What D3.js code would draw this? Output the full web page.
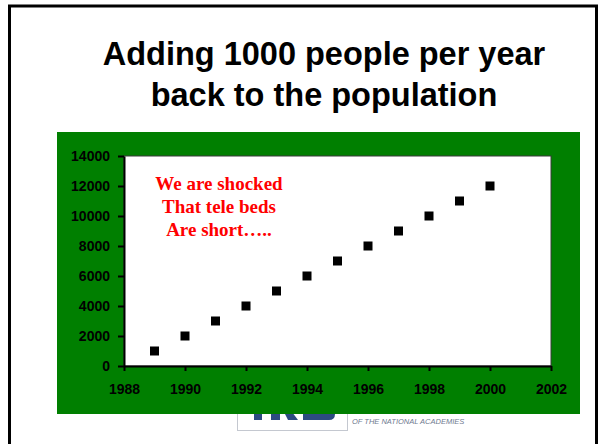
<!DOCTYPE html>
<html lang="en">
<head>
<meta charset="UTF-8">
<title>Adding 1000 people per year</title>
<script src="https://d3js.org/d3.v7.min.js"></script>
<style>
    body { margin: 0; background: #fff; }
    svg { display: block; }
</style>
</head>
<body>
<div id="chart"></div>
<script>
const years = [1989, 1990, 1991, 1992, 1993, 1994, 1995, 1996, 1997, 1998, 1999, 2000];
const people = [1000, 2000, 3000, 4000, 5000, 6000, 7000, 8000, 9000, 10000, 11000, 12000];
const xTicks = [1988, 1990, 1992, 1994, 1996, 1998, 2000, 2002];
const yTicks = [0, 2000, 4000, 6000, 8000, 10000, 12000, 14000];
const titleLines = ["Adding 1000 people per year", "back to the population"];
const noteLines = ["We are shocked", "That tele beds", "Are short….."];

const W = 602, H = 444;
const svg = d3.select("#chart").append("svg")
    .attr("width", W).attr("height", H);

// slide frame (no bottom edge visible)
svg.append("path")
    .attr("d", "M9.5,444 V6 H596.5 V444")
    .attr("fill", "none")
    .attr("stroke", "#000")
    .attr("stroke-width", 3);

// title
svg.append("g").selectAll("text")
    .data(titleLines)
    .join("text")
    .attr("x", 324)
    .attr("y", (d, i) => 65 + i * 41)
    .attr("text-anchor", "middle")
    .style("font-family", "'Liberation Sans', Arial, sans-serif")
    .style("font-weight", "bold")
    .style("font-size", "32.5px")
    .text(d => d);

// logo peeking from under the chart
const logo = svg.append("g");
logo.append("rect")
    .attr("x", 237.5).attr("y", 400).attr("width", 110).attr("height", 30.5)
    .attr("fill", "#fff").attr("stroke", "#c4c8d0").attr("stroke-width", 1);
logo.append("path")
    .attr("d", "M254,404 h8 v16 h-8 Z M271,404 h9 v16 h-9 Z M284,412 h8 l6,8 h-10 Z M303,404 h26 q6,0 6,6 v4 q0,6 -6,6 h-26 Z")
    .attr("fill", "#2d4b82");
svg.append("text")
    .attr("x", 352).attr("y", 424)
    .style("font-family", "'Liberation Sans', Arial, sans-serif")
    .style("font-style", "italic")
    .style("font-size", "7.5px")
    .attr("fill", "#6f7a90")
    .text("OF THE NATIONAL ACADEMIES");

// green chart background
svg.append("rect")
    .attr("x", 57).attr("y", 132).attr("width", 523).attr("height", 282)
    .attr("fill", "#007f00");

const plot = { left: 124, top: 156, right: 551, bottom: 366 };

const x = d3.scaleLinear().domain([1988, 2002]).range([plot.left, plot.right]);
const y = d3.scaleLinear().domain([0, 14000]).range([plot.bottom, plot.top]);

svg.append("rect")
    .attr("x", plot.left).attr("y", plot.top)
    .attr("width", plot.right - plot.left).attr("height", plot.bottom - plot.top)
    .attr("fill", "#fff")
    .attr("stroke", "#3a3a3a").attr("stroke-width", 1);

const xAxis = svg.append("g")
    .attr("transform", `translate(0,${plot.bottom})`)
    .call(d3.axisBottom(x).tickValues(xTicks).tickFormat(d3.format("d")).tickSize(5).tickSizeOuter(0).tickPadding(13));
const yAxis = svg.append("g")
    .attr("transform", `translate(${plot.left},0)`)
    .call(d3.axisLeft(y).tickValues(yTicks).tickFormat(d3.format("d")).tickSize(6).tickSizeOuter(0).tickPadding(8));
[xAxis, yAxis].forEach(a => {
    a.select(".domain").attr("stroke", "#000").attr("stroke-width", 2);
    a.selectAll(".tick line").attr("stroke", "#000").attr("stroke-width", 2);
    a.selectAll(".tick text")
        .style("font-family", "'Liberation Sans', Arial, sans-serif")
        .style("font-weight", "bold")
        .style("font-size", "14px")
        .attr("fill", "#000");
});

// data points
const s = 9;
svg.append("g").selectAll("rect")
    .data(years.map((yr, i) => [yr, people[i]]))
    .join("rect")
    .attr("x", d => x(d[0]) - s / 2)
    .attr("y", d => y(d[1]) - s / 2)
    .attr("width", s).attr("height", s)
    .attr("fill", "#000");

// annotation
svg.append("g").selectAll("text")
    .data(noteLines)
    .join("text")
    .attr("x", 219)
    .attr("y", (d, i) => 190 + i * 23)
    .attr("text-anchor", "middle")
    .style("font-family", "'Liberation Serif', 'Times New Roman', serif")
    .style("font-weight", "bold")
    .style("font-size", "19px")
    .attr("fill", "#ff0000")
    .text(d => d);
</script>
</body>
</html>
